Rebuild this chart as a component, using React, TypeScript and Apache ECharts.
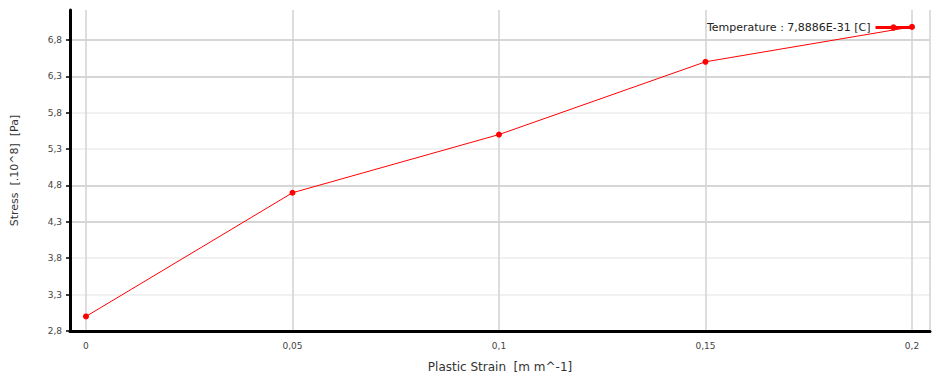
import React, { useEffect, useRef } from "react";
import * as echarts from "echarts";

const strain = [0, 0.05, 0.1, 0.15, 0.2];
const stress = [3.0, 4.7, 5.5, 6.5, 6.98];
const xTicks = [0, 0.05, 0.1, 0.15, 0.2];
const yTicks = [2.8, 3.3, 3.8, 4.3, 4.8, 5.3, 5.8, 6.3, 6.8];
const seriesName = "Temperature : 7,8886E-31 [C]";
const xName = "Plastic Strain  [m m^-1]";
const yName = "Stress  [.10^8]  [Pa]";

export default function App() {
  const ref = useRef<HTMLDivElement>(null);
  useEffect(() => {
    if (!ref.current) return;
    const chart = echarts.init(ref.current, null, { renderer: "svg" });
    const font = "Tahoma, 'DejaVu Sans', sans-serif";
    chart.setOption({
      animation: false,
      backgroundColor: "#ffffff",
      textStyle: { fontFamily: font },
      grid: { left: 70, right: 11, top: 10, bottom: 50, containLabel: false },
      legend: {
        show: true,
        right: 23,
        top: 17,
        align: "right",
        itemWidth: 36,
        itemHeight: 8,
        itemGap: 4,
        textStyle: { fontSize: 11, color: "#222", fontFamily: font },
        data: [seriesName],
        lineStyle: { width: 3 },
      },
      xAxis: {
        type: "value",
        min: -0.00387,
        max: 0.20436,
        name: xName,
        nameLocation: "middle",
        nameGap: 30,
        nameTextStyle: { fontSize: 12, color: "#333" },
        axisLine: { show: true, onZero: false, lineStyle: { color: "#000", width: 3 } },
        axisTick: { show: false, customValues: [...xTicks, 0.20436] },
        axisLabel: {
          customValues: xTicks,
          fontSize: 9,
          color: "#444",
          margin: 10,
          formatter: (v: number) => String(Math.round(v * 100) / 100).replace(".", ","),
        },
        splitLine: { show: true, lineStyle: { color: "#d2d2d2", width: 1.5 } },
      },
      yAxis: {
        type: "value",
        min: 2.8,
        max: 7.212,
        name: yName,
        nameLocation: "middle",
        nameGap: 50,
        nameTextStyle: { fontSize: 11, color: "#333" },
        axisLine: { show: true, onZero: false, lineStyle: { color: "#000", width: 3 } },
        axisTick: { show: true, length: 4, customValues: yTicks, lineStyle: { color: "#000", width: 1.5 } },
        axisLabel: {
          customValues: yTicks,
          fontSize: 9,
          color: "#444",
          margin: 8,
          formatter: (v: number) => v.toFixed(1).replace(".", ","),
        },
        splitLine: {
          show: true,
          lineStyle: { color: ["#c8c8c8", "#ececec", "#ececec", "#c8c8c8"], width: 1.5 },
        },
      },
      series: [
        {
          name: seriesName,
          type: "line",
          data: strain.map((x, i) => [x, stress[i]]),
          symbol: "circle",
          symbolSize: 6,
          lineStyle: { color: "#ff0000", width: 1 },
          itemStyle: { color: "#ff0000" },
        },
      ],
    });
    return () => chart.dispose();
  }, []);
  return (
    <div
      ref={ref}
      style={{ position: "fixed", left: 0, top: 0, width: 941, height: 381 }}
    />
  );
}
